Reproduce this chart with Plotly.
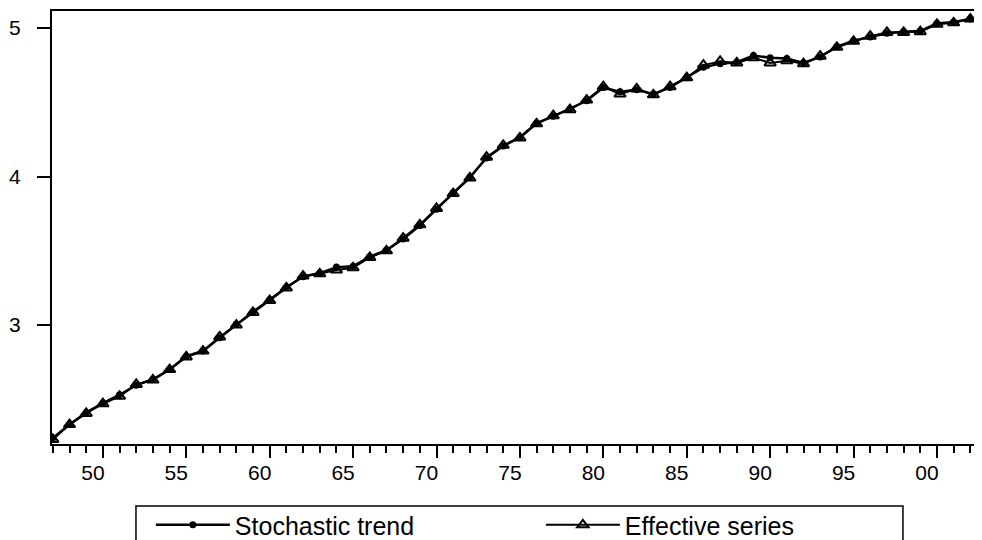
import plotly.graph_objects as go

years = list(range(1947, 2004))

stochastic_trend = [
    2.24, 2.33, 2.41, 2.475, 2.53, 2.595, 2.635, 2.70, 2.79, 2.825,
    2.915, 3.005, 3.09, 3.17, 3.255, 3.325, 3.35, 3.39, 3.395, 3.46,
    3.505, 3.58, 3.67, 3.78, 3.89, 3.995, 4.125, 4.205, 4.265, 4.36,
    4.405, 4.455, 4.51, 4.60, 4.57, 4.585, 4.555, 4.60, 4.665, 4.735,
    4.76, 4.77, 4.815, 4.80, 4.795, 4.765, 4.805, 4.875, 4.915, 4.94,
    4.965, 4.975, 4.98, 5.03, 5.04, 5.06, 5.055,
]

effective_series = [
    2.23, 2.33, 2.405, 2.47, 2.52, 2.60, 2.63, 2.70, 2.785, 2.825,
    2.92, 3.00, 3.085, 3.165, 3.25, 3.33, 3.345, 3.37, 3.385, 3.455,
    3.50, 3.585, 3.675, 3.785, 3.885, 3.99, 4.13, 4.21, 4.26, 4.355,
    4.41, 4.45, 4.515, 4.605, 4.555, 4.59, 4.55, 4.605, 4.665, 4.75,
    4.775, 4.765, 4.80, 4.765, 4.78, 4.76, 4.81, 4.87, 4.91, 4.945,
    4.97, 4.97, 4.975, 5.025, 5.035, 5.06, 5.05,
]

x_tick_vals = [1950, 1955, 1960, 1965, 1970, 1975, 1980, 1985, 1990, 1995, 2000]
x_tick_text = ["50", "55", "60", "65", "70", "75", "80", "85", "90", "95", "00"]
y_tick_vals = [3, 4, 5]

FONT = "Liberation Sans, Arial, sans-serif"

fig = go.Figure()
fig.add_trace(go.Scatter(
    x=years, y=stochastic_trend, name="Stochastic trend",
    mode="lines+markers",
    line=dict(color="black", width=2.5),
    marker=dict(symbol="circle", size=7, color="black"),
))
fig.add_trace(go.Scatter(
    x=years, y=effective_series, name="Effective series",
    mode="lines+markers",
    line=dict(color="black", width=2),
    marker=dict(symbol="triangle-up-open", size=10, color="black",
                line=dict(width=2, color="black")),
))

# legend frame
fig.add_shape(type="rect", xref="paper", yref="paper",
              x0=0.0903, x1=0.915, y0=-0.1432, y1=-0.26,
              line=dict(color="black", width=1.5), fillcolor="white",
              layer="below")

# the page body adds an 8px offset, so margins are reduced by 8px on left/top
fig.update_layout(
    width=982, height=540,
    margin=dict(l=44, r=8, t=3, b=104, autoexpand=False),
    paper_bgcolor="white", plot_bgcolor="white",
    font=dict(family=FONT, color="black", size=20),
    showlegend=True,
    legend=dict(
        orientation="h", x=0.1063, y=-0.134, xanchor="left", yanchor="top",
        borderwidth=0, bgcolor="rgba(0,0,0,0)",
        font=dict(family=FONT, size=25, color="black"),
        itemwidth=74, entrywidth=301, entrywidthmode="pixels",
    ),
    xaxis=dict(
        range=[1946.95, 2002.7],
        tickvals=x_tick_vals, ticktext=x_tick_text,
        ticks="outside", ticklen=12, tickwidth=1.5, tickcolor="black",
        minor=dict(dtick=1, tick0=1947, ticks="outside", ticklen=7,
                   tickwidth=1.5, tickcolor="black", showgrid=False),
        showline=True, linecolor="black", linewidth=2, mirror=True,
        showgrid=False, zeroline=False, automargin=False,
        ticklabelshift=-10, ticklabelstandoff=-3,
        tickfont=dict(family=FONT, size=21, color="black"),
    ),
    yaxis=dict(
        range=[2.199, 5.1145],
        tickvals=y_tick_vals,
        ticks="outside", ticklen=13, tickwidth=1.5, tickcolor="black",
        showline=True, linecolor="black", linewidth=2, mirror=False,
        showgrid=False, zeroline=False, automargin=False,
        ticklabelstandoff=12,
        tickfont=dict(family=FONT, size=21, color="black"),
    ),
)

fig.write_html("out.html")
